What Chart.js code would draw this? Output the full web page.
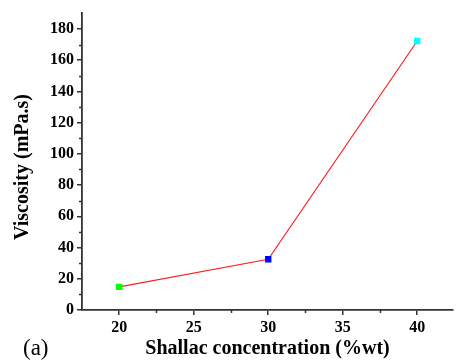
<!DOCTYPE html>
<html>
<head>
<meta charset="utf-8">
<script src="https://cdn.jsdelivr.net/npm/chart.js@4"></script>
<style>
	html, body { margin: 0; padding: 0; background: #fff; }
	#wrap { width: 458px; height: 362px; position: relative; }
</style>
</head>
<body>
<div id="wrap"><canvas id="myChart"></canvas></div>
<script>
// 데이터
var concentrations = [20, 30, 40];
var viscosity = [14.8, 32.5, 172.3];
var pointColors = ['#00ff00', '#0000ff', '#00ffff'];
var xTicks = [20, 25, 30, 35, 40];
var yTicks = [0, 20, 40, 60, 80, 100, 120, 140, 160, 180];
var xMinor = [22.5, 27.5, 32.5, 37.5];
var yMinor = [10, 30, 50, 70, 90, 110, 130, 150, 170];

var serif = '"Liberation Serif", "Times New Roman", serif';

var points = [];
for (let i = 0; i < concentrations.length; i++) {
	points.push({ x: concentrations[i], y: viscosity[i] });
}

// 작은 눈금, y축 제목, (a) 라벨
var extraPlugin = {
	id: 'extra',
	afterDraw: function(chart) {
		var ctx = chart.ctx;
		var xs = chart.scales.x;
		var ys = chart.scales.y;
		var area = chart.chartArea;
		ctx.save();
		ctx.strokeStyle = '#333';
		ctx.lineWidth = 1.5;
		ctx.beginPath();
		for (let i = 0; i < xMinor.length; i++) {
			var px = Math.round(xs.getPixelForValue(xMinor[i])) + 0.5;
			ctx.moveTo(px, area.bottom);
			ctx.lineTo(px, area.bottom + 3);
		}
		for (let i = 0; i < yMinor.length; i++) {
			var py = Math.round(ys.getPixelForValue(yMinor[i])) + 0.5;
			ctx.moveTo(area.left, py);
			ctx.lineTo(area.left - 3, py);
		}
		ctx.stroke();

		ctx.fillStyle = '#000';
		ctx.font = 'bold 20px ' + serif;
		ctx.textAlign = 'center';
		ctx.textBaseline = 'middle';
		ctx.translate(23, 167);
		ctx.rotate(-Math.PI / 2);
		ctx.fillText('Viscosity (mPa.s)', 0, 0);
		ctx.setTransform(1, 0, 0, 1, 0, 0);

		ctx.font = '23px ' + serif;
		ctx.textAlign = 'left';
		ctx.textBaseline = 'alphabetic';
		ctx.fillText('(a)', 23, 355);
		ctx.restore();
	}
};

var ctx = document.getElementById('myChart').getContext('2d');
var myChart = new Chart(ctx, {
	type: 'scatter',
	data: {
		datasets: [{
			data: points,
			showLine: true,
			borderColor: '#ff2020',
			borderWidth: 1.2,
			pointStyle: 'rect',
			pointRadius: 4.5,
			pointBorderWidth: 0,
			pointBackgroundColor: pointColors,
			pointBorderColor: pointColors
		}]
	},
	options: {
		responsive: true,
		maintainAspectRatio: false,
		animation: false,
		layout: { padding: { top: 7, right: 5, left: 0, bottom: 0 } },
		plugins: {
			legend: { display: false },
			tooltip: { enabled: false }
		},
		scales: {
			x: {
				type: 'linear',
				min: 17.5,
				max: 42.4,
				afterBuildTicks: function(scale) {
					scale.ticks = xTicks.map(function(v) { return { value: v }; });
				},
				afterFit: function(scale) { scale.height = 52; },
				grid: { display: true, drawOnChartArea: false, tickLength: 5, color: '#333', lineWidth: 1.5 },
				border: { color: '#333', width: 1.8 },
				ticks: {
					color: '#000',
					padding: 3,
					maxRotation: 0,
					font: { family: serif, size: 16, weight: 'bold' }
				},
				title: {
					display: true,
					text: 'Shallac concentration (%wt)',
					color: '#000',
					padding: { top: 0, bottom: 1 },
					font: { family: serif, size: 20, weight: 'bold' }
				}
			},
			y: {
				type: 'linear',
				min: 0,
				max: 190.5,
				afterBuildTicks: function(scale) {
					scale.ticks = yTicks.map(function(v) { return { value: v }; });
				},
				afterFit: function(scale) { scale.width = 82; },
				grid: { display: true, drawOnChartArea: false, tickLength: 5, color: '#333', lineWidth: 1.5 },
				border: { color: '#333', width: 1.8 },
				ticks: {
					color: '#000',
					padding: 3,
					font: { family: serif, size: 16, weight: 'bold' }
				},
				title: { display: false }
			}
		}
	},
	plugins: [extraPlugin]
});
</script>
</body>
</html>
